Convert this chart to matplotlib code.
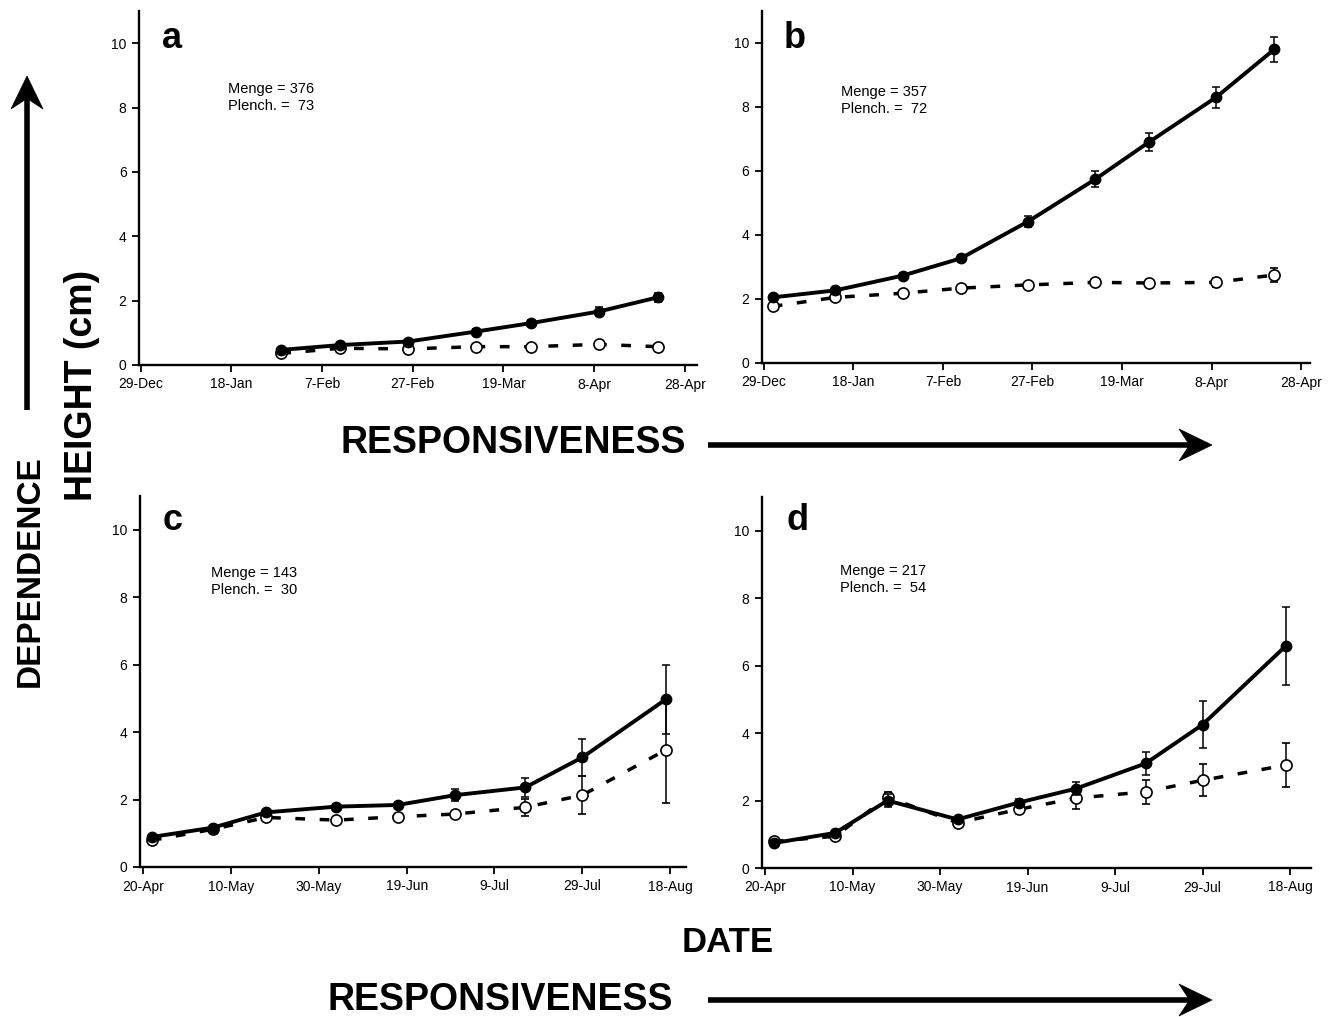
import matplotlib
matplotlib.use("Agg")
import matplotlib.pyplot as plt
from matplotlib.lines import Line2D
from matplotlib.patches import Polygon
import numpy as np
import pandas as pd

plt.rcParams["font.family"] = ["Liberation Sans", "DejaVu Sans"]

W, H = 1338, 1017

# sampling dates
dates_ab = pd.to_datetime(["1997-12-31", "1998-01-14", "1998-01-29", "1998-02-11", "1998-02-26",
                           "1998-03-13", "1998-03-25", "1998-04-09", "1998-04-22"])
dates_cd = pd.to_datetime(["1998-04-22", "1998-05-06", "1998-05-18", "1998-06-03", "1998-06-17",
                           "1998-06-30", "1998-07-16", "1998-07-29", "1998-08-17"])
ticks_ab = pd.date_range("1997-12-29", periods=7, freq="20D")
ticks_cd = pd.date_range("1998-04-20", periods=7, freq="20D")

# panel a (starts at the third date)
a_menge = [0.47, 0.62, 0.73, 1.04, 1.30, 1.66, 2.10]
a_menge_err = [0.05, 0.05, 0.05, 0.08, 0.10, 0.15, 0.15]
a_plench = [0.36, 0.52, 0.50, 0.57, 0.57, 0.64, 0.57]
a_plench_err = [0.04, 0.04, 0.04, 0.04, 0.04, 0.05, 0.05]

# panel b
b_menge = [2.05, 2.27, 2.73, 3.27, 4.42, 5.74, 6.90, 8.30, 9.80]
b_menge_err = [0.05, 0.06, 0.08, 0.10, 0.17, 0.25, 0.28, 0.33, 0.38]
b_plench = [1.77, 2.05, 2.18, 2.34, 2.44, 2.52, 2.50, 2.52, 2.75]
b_plench_err = [0.04, 0.05, 0.05, 0.05, 0.06, 0.07, 0.08, 0.15, 0.22]

# panel c
c_menge = [0.89, 1.17, 1.62, 1.79, 1.84, 2.13, 2.36, 3.25, 4.97]
c_menge_err = [0.05, 0.06, 0.08, 0.08, 0.10, 0.18, 0.28, 0.55, 1.03]
c_plench = [0.79, 1.12, 1.47, 1.39, 1.49, 1.57, 1.77, 2.13, 3.47]
c_plench_err = [0.04, 0.05, 0.06, 0.06, 0.07, 0.08, 0.25, 0.56, 1.57]

# panel d
d_menge = [0.74, 1.04, 2.00, 1.44, 1.94, 2.35, 3.10, 4.25, 6.58]
d_menge_err = [0.05, 0.06, 0.20, 0.08, 0.10, 0.20, 0.35, 0.69, 1.15]
d_plench = [0.79, 0.94, 2.10, 1.34, 1.74, 2.07, 2.26, 2.60, 3.05]
d_plench_err = [0.04, 0.05, 0.15, 0.06, 0.15, 0.32, 0.36, 0.48, 0.65]

counts = {"a": (376, 73), "b": (357, 72), "c": (143, 30), "d": (217, 54)}


def fx(x):
    return x / W


def fy(y):
    return 1 - y / H


def rect(l, t, r, b):
    return [fx(l), fy(b), (r - l) / W, (b - t) / H]


def panel(ax, dates, menge, menge_err, plench, plench_err, ticks, lo, hi):
    ax.errorbar(dates, plench, yerr=plench_err, color="black", lw=2.5, dashes=(2.8, 4.2),
                marker="o", ms=8, mfc="white", mec="black", mew=1.2,
                ecolor="black", elinewidth=1.1, capsize=3, capthick=1.1, zorder=2)
    ax.errorbar(dates, menge, yerr=menge_err, color="black", lw=2.8,
                marker="o", ms=7.5, mfc="black", mec="black",
                ecolor="black", elinewidth=1.1, capsize=3, capthick=1.1, zorder=3)
    ax.set_xlim(ticks[0] - pd.Timedelta(days=lo), ticks[-1] + pd.Timedelta(days=hi))
    ax.set_ylim(0, 11)
    ax.set_xticks(ticks)
    ax.set_xticklabels([f"{t.day}-{t.strftime('%b')}" for t in ticks])
    ax.set_yticks(range(0, 11, 2))
    for s in ("top", "right"):
        ax.spines[s].set_visible(False)
    for s in ("left", "bottom"):
        ax.spines[s].set_linewidth(1.7)
    ax.tick_params(direction="out", length=5, width=1.3, labelsize=10, pad=4)


def big_arrow(x0, y0, x1, y1):
    # shaft plus a filled stealth head, all in figure pixels
    u = np.array([x1 - x0, y1 - y0], dtype=float)
    u /= np.hypot(*u)
    n = np.array([-u[1], u[0]])
    tip = np.array([x1, y1], dtype=float)
    L, w = 33, 16
    back = tip - L * u
    notch = tip - 0.68 * L * u
    pts = [tip, back + w * n, notch, back - w * n]
    fig.add_artist(Line2D([fx(x0), fx(notch[0])], [fy(y0), fy(notch[1])], lw=4, color="black",
                          solid_capstyle="butt", transform=fig.transFigure))
    fig.add_artist(Polygon([(fx(px), fy(py)) for px, py in pts], closed=True, facecolor="black",
                           edgecolor="black", lw=0.5, transform=fig.transFigure))


fig = plt.figure(figsize=(W / 100, H / 100), dpi=100)

ax_a = fig.add_axes(rect(139, 11, 697, 365))
panel(ax_a, dates_ab[2:], a_menge, a_menge_err, a_plench, a_plench_err, ticks_ab, 0.4, 2.7)
ax_b = fig.add_axes(rect(762, 11, 1310, 363))
panel(ax_b, dates_ab, b_menge, b_menge_err, b_plench, b_plench_err, ticks_ab, 0.4, 2.0)
ax_c = fig.add_axes(rect(140, 496, 686, 867))
panel(ax_c, dates_cd, c_menge, c_menge_err, c_plench, c_plench_err, ticks_cd, 0.7, 3.6)
ax_d = fig.add_axes(rect(762, 497, 1311, 868))
panel(ax_d, dates_cd, d_menge, d_menge_err, d_plench, d_plench_err, ticks_cd, 0.7, 4.8)

# panel letters and counts
letter_pos = {"a": (172, 39), "b": (795, 39), "c": (173, 521), "d": (798, 521)}
count_pos = {"a": (228, 82), "b": (841, 85), "c": (211, 566), "d": (840, 564)}
for k in "abcd":
    x, y = letter_pos[k]
    fig.text(fx(x), fy(y), k, fontsize=26, fontweight="bold", ha="center", va="center")
    x, y = count_pos[k]
    m, p = counts[k]
    fig.text(fx(x), fy(y), f"Menge = {m}\nPlench. =  {p}", fontsize=10.5,
             ha="left", va="top", linespacing=1.25)

# big axis words
fig.text(fx(513), fy(443), "RESPONSIVENESS", fontsize=27, fontweight="bold", ha="center", va="center")
fig.text(fx(500), fy(1000), "RESPONSIVENESS", fontsize=27, fontweight="bold", ha="center", va="center")
fig.text(fx(728), fy(942), "DATE", fontsize=25, fontweight="bold", ha="center", va="center")
fig.text(fx(30), fy(571), "DEPENDENCE", fontsize=24, fontweight="bold", ha="center", va="center",
         rotation=90)
fig.text(fx(82), fy(385), "HEIGHT (cm)", fontsize=27, fontweight="bold", ha="center", va="center",
         rotation=90)

# arrows
big_arrow(27, 410, 27, 76)
big_arrow(708, 445, 1212, 445)
big_arrow(708, 1000, 1212, 1000)

fig.savefig("out.png", dpi=100)
